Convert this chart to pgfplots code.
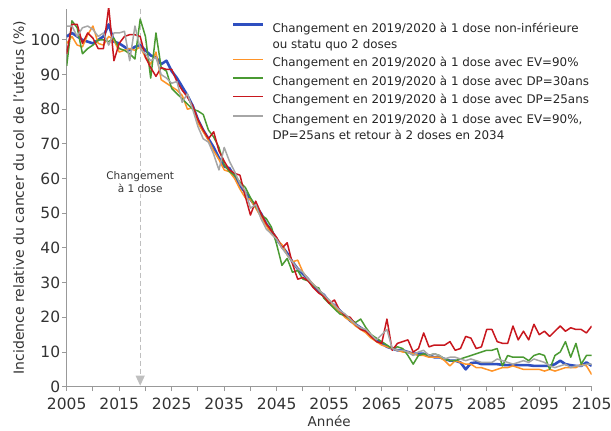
\documentclass[border=0pt]{standalone}
\usepackage{pgfplots}
\pgfplotsset{compat=1.18}
\usepackage{pgfplotstable}
\usepackage{fontspec}
\setmainfont{DejaVu Sans}
\usetikzlibrary{arrows.meta}
\definecolor{cblue}{HTML}{2E4FC0}
\definecolor{corange}{HTML}{FF9428}
\definecolor{cgreen}{HTML}{4A9A32}
\definecolor{cred}{HTML}{C8171E}
\definecolor{cgray}{HTML}{A6A6A6}
\definecolor{axgray}{HTML}{999999}
\definecolor{labgray}{HTML}{333333}
\pgfplotsset{
  oneline legend/.style={legend image code/.code={\draw[##1] (0pt,0.3em) -- (30pt,0.3em);}},
  twoline legend/.style={legend image code/.code={\draw[##1] (0pt,0.3em+8pt) -- (30pt,0.3em+8pt);}},
}
\pgfplotstableread{
year blue orange green red gray
2005 101 99 92.5 96 104
2006 102 101 105.5 104.5 104
2007 101 98.5 103.5 104.5 101
2008 100 98 96 99 103.5
2009 99.5 101.5 97.5 102 104
2010 99 104 98.5 100.5 103
2011 100 99 100 97.5 101
2012 101 98.5 100 97.5 102
2013 104.5 101 99.5 109.5 98.5
2014 99.5 100 100.5 94 102
2015 99 96.5 97.5 99 102
2016 98 97 97 101 102.5
2017 97 97.5 96 101.5 94
2018 98 97 94.5 101.5 104
2019 98.5 98 106 101 97.5
2020 97 95 101 95 96
2021 95.5 93 89 92 94
2022 95 96.5 102 89.5 95
2023 93 88.5 92 92 90
2024 94 87.5 91 91.5 89
2025 91 86.5 86 91.5 87.5
2026 89 85.5 84.5 88 88
2027 86.5 84 83 85.5 82
2028 84 80 81.5 83.5 84.5
2029 81 80.5 80 81 80
2030 77 76 79.5 77 75
2031 74 73.5 78.5 74 71.5
2032 71.5 71 74 71.5 70.5
2033 69 68 72 73.5 67
2034 66 65.5 69 68 62.5
2035 63.5 62.5 64 65 69
2036 63 62 62 62.5 65
2037 60.5 60 61 61.5 62
2038 58 57 59 61 58.5
2039 56 54.5 57.5 55 56.5
2040 54 54 54.5 49.5 51.5
2041 52 51.5 52 53.5 52.5
2042 50 49 49.5 50 48.5
2043 47 46.5 48.5 47 45.5
2044 45 44 46 45 44
2045 42.5 42.5 41 43 42.5
2046 40.5 41 35 40 40
2047 38.5 38 37 41.5 38
2048 36 36 33 35.5 36
2049 34 36.5 33.5 31 34
2050 32.5 33 31 31.5 33
2051 31 31 30.5 30.5 31
2052 29 29.5 29 28.5 29.5
2053 27.5 28 28.5 27 28
2054 26.5 26 25.5 26 26.5
2055 24.5 24.5 24 24 25
2056 23.5 23 22.5 25 23.5
2057 22 21.5 21 22 22
2058 20.5 20 20.5 20.5 21
2059 19 19 19.5 20 19.5
2060 18 17.5 18.5 18 18
2061 17 16.5 19.5 16.5 17
2062 16 15.5 17 16 16.5
2063 14.5 14 15 14.5 15
2064 13.5 13 14 13 13.5
2065 12.5 12 13 12.5 15
2066 11.5 11.5 12 19.5 16.5
2067 11 11 11 10.5 11
2068 10.5 10.5 11.5 12.5 10.5
2069 10.5 10 11 13 10.5
2070 10 10 9 13.5 10
2071 9.5 9.5 6.5 10 9
2072 9.5 9 9 11 10
2073 9.5 9 9.5 15.5 10.5
2074 9 8.5 9 11.5 9
2075 8.5 8.5 9.5 12 9.5
2076 8.5 8.5 9 12 9
2077 8 7.5 8 12 8
2078 7.5 6 7.5 13 8.5
2079 7.5 7.5 7.5 10.5 8.5
2080 7 7 8 11 8
2081 5 6.5 8.5 14.5 7.5
2082 6.8 6.5 9 14 8
2083 7 5.5 9.5 11 7.5
2084 6.5 5.5 10 11.5 7
2085 6.5 5 10.5 16.5 7
2086 6.5 4.5 10.5 16.5 7
2087 6.5 5 11 13 8
2088 6.3 5.5 6 12.5 7.5
2089 6.2 5.5 9 12.5 7
2090 6.3 6 8.5 17.5 6.5
2091 6.2 5.5 8.5 13.5 7
2092 6.2 5 8.5 16 7.5
2093 6.2 5 7.5 13.5 7
2094 6 5 9 18 8
2095 6 5 9.5 15 7.5
2096 6 4.5 9 16 7
2097 6 5 5 14.5 6
2098 6.5 4.5 9 16 5.5
2099 7.5 5 10 17.5 6
2100 6.5 5.5 13 16 6.5
2101 6.2 5.5 8.5 17 5.5
2102 6 5.5 12.5 16.5 6
2103 6 6.5 6.5 16.5 6
2104 7 6 9 15.5 6.5
2105 6 3.5 9 17.5 6.5
}\datatable
\begin{document}
\begin{tikzpicture}
\begin{axis}[
  scale only axis, width=525pt, height=378pt,
  xmin=2005, xmax=2105, ymin=0, ymax=109,
  axis lines*=left,
  axis line style={draw=axgray, line width=1.2pt},
  xtick={2005,2015,...,2105}, minor xtick={2010,2020,...,2100},
  ytick={0,10,...,100},
  tick align=outside,
  tick style={draw=axgray, line width=1pt},
  major tick length=4.5pt, minor tick length=4.5pt,
  /pgf/number format/assume math mode=true,
  /pgf/number format/set thousands separator={},
  ticklabel style={font=\fontsize{15.5}{18}\selectfont, text=labgray},
  xticklabel style={yshift=-3pt},
  yticklabel style={xshift=1.5pt},
  xlabel={Année}, ylabel={Incidence relative du cancer du col de l'utérus (\%)},
  xlabel style={font=\fontsize{13.5}{16}\selectfont, text=labgray, yshift=1pt},
  ylabel style={font=\fontsize{14}{16}\selectfont, text=labgray, yshift=-2pt},
  legend style={draw=none, fill=none, inner sep=0pt, at={(0.3143,1)}, anchor=north west, yshift=-11pt,
    font=\fontsize{11.9}{16}\selectfont, text=black!85, row sep=5.5pt, nodes={inner sep=1pt},
    /tikz/every odd column/.append style={column sep=7pt}},
  legend cell align=left,
  oneline legend,
  every axis plot/.append style={line join=round},
]
\draw[black!25, dashed, dash pattern=on 5pt off 3pt, line width=1.1pt, -{Triangle[width=9pt,length=10pt]}] (axis cs:2019,109) -- (axis cs:2019,0.3);
\node[fill=white, align=center, font=\fontsize{10.5}{13}\selectfont, text=labgray, inner sep=1pt] at (axis cs:2019,59) {Changement\\à 1 dose};
\addplot[cblue, line width=2.6pt, twoline legend] table[x=year, y=blue] {\datatable};
\addlegendentry{\begin{tabular}[b]{@{}l@{}}Changement en 2019/2020 à 1 dose non-inférieure\\ou statu quo 2 doses\end{tabular}}
\addplot[corange, line width=1.5pt] table[x=year, y=orange] {\datatable};
\addlegendentry{Changement en 2019/2020 à 1 dose avec EV=90\%}
\addplot[cgreen, line width=1.5pt] table[x=year, y=green] {\datatable};
\addlegendentry{Changement en 2019/2020 à 1 dose avec DP=30ans}
\addplot[cred, line width=1.5pt] table[x=year, y=red] {\datatable};
\addlegendentry{Changement en 2019/2020 à 1 dose avec DP=25ans}
\addplot[cgray, line width=1.5pt, twoline legend] table[x=year, y=gray] {\datatable};
\addlegendentry{\begin{tabular}[b]{@{}l@{}}Changement en 2019/2020 à 1 dose avec EV=90\%,\\DP=25ans et retour à 2 doses en 2034\end{tabular}}
\end{axis}
\pgfresetboundingbox
\path (-66.7pt,-44.3pt) rectangle (544.3pt,386.7pt);
\end{tikzpicture}
\end{document}
